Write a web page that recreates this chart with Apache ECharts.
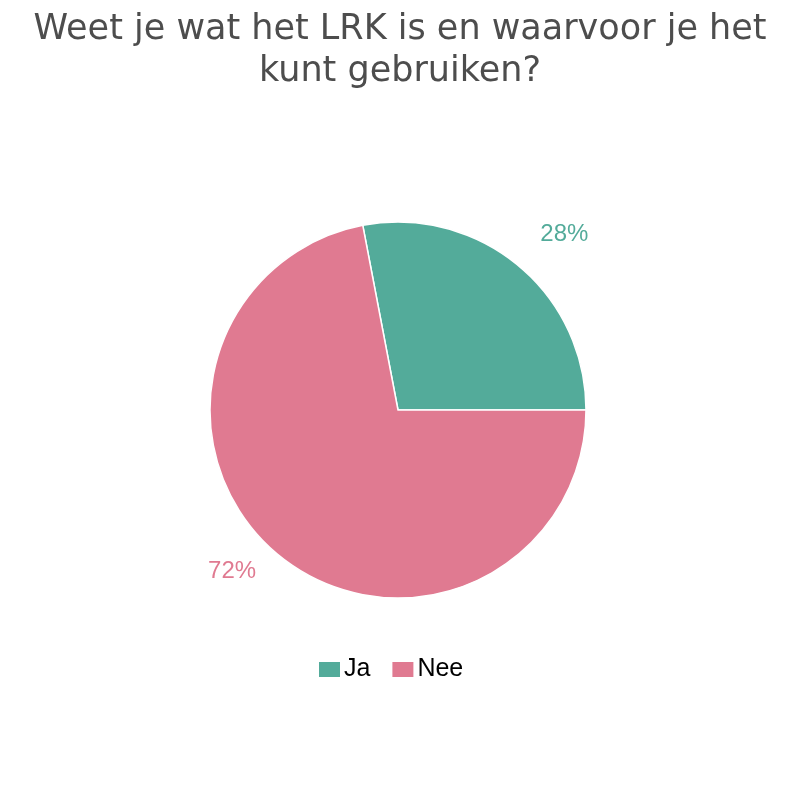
<!DOCTYPE html>
<html>
<head>
<meta charset="utf-8">
<script src="https://cdn.jsdelivr.net/npm/echarts@6/dist/echarts.min.js"></script>
<style>
	html, body { margin: 0; padding: 0; background: #fff; }
	#main { width: 800px; height: 800px; }
</style>
</head>
<body>
<div id="main"></div>
<script>
var categories = ['Ja', 'Nee'];
var values = [28, 72];
var colorList = ['#53ab9a', '#e07a91'];
// label line lengths per slice (labels sit a bit further out above the pie)
var lineLength = [40, 22];
var lineLength2 = [0, 3];
var labelGap = [-3, 5];

var pieData = [];
for (var i = 0; i < categories.length; i++) {
	pieData.push({
		name: categories[i],
		value: values[i],
		label: { color: colorList[i], distanceToLabelLine: labelGap[i] },
		labelLine: { show: false, length: lineLength[i], length2: lineLength2[i] }
	});
}

var option = {
	backgroundColor: '#ffffff',
	color: colorList,
	title: {
		text: 'Weet je wat het LRK is en waarvoor je het\nkunt gebruiken?',
		left: 'center',
		top: 4,
		textStyle: {
			fontFamily: 'DejaVu Sans',
			fontWeight: 'normal',
			fontSize: 35,
			color: '#4d4d4d',
			lineHeight: 42
		}
	},
	legend: {
		bottom: 113,
		left: 312,
		itemWidth: 23,
		itemHeight: 17,
		itemGap: 20,
		icon: 'rect',
		textStyle: {
			fontFamily: 'Liberation Sans',
			fontSize: 25,
			color: '#000',
			padding: [0, 0, 0, -2]
		},
		data: categories
	},
	series: [{
		type: 'pie',
		center: [398, 410],
		radius: ['0', 188],
		startAngle: 0,
		clockwise: false,
		avoidLabelOverlap: false,
		itemStyle: {
			borderColor: '#fff',
			borderWidth: 1.5
		},
		label: {
			show: true,
			position: 'outside',
			fontFamily: 'Liberation Sans',
			fontSize: 24,
			formatter: '{d}%'
		},
		labelLine: {
			show: false
		},
		data: pieData
	}]
};

var chart = echarts.init(document.getElementById('main'));
chart.setOption(option);
</script>
</body>
</html>
